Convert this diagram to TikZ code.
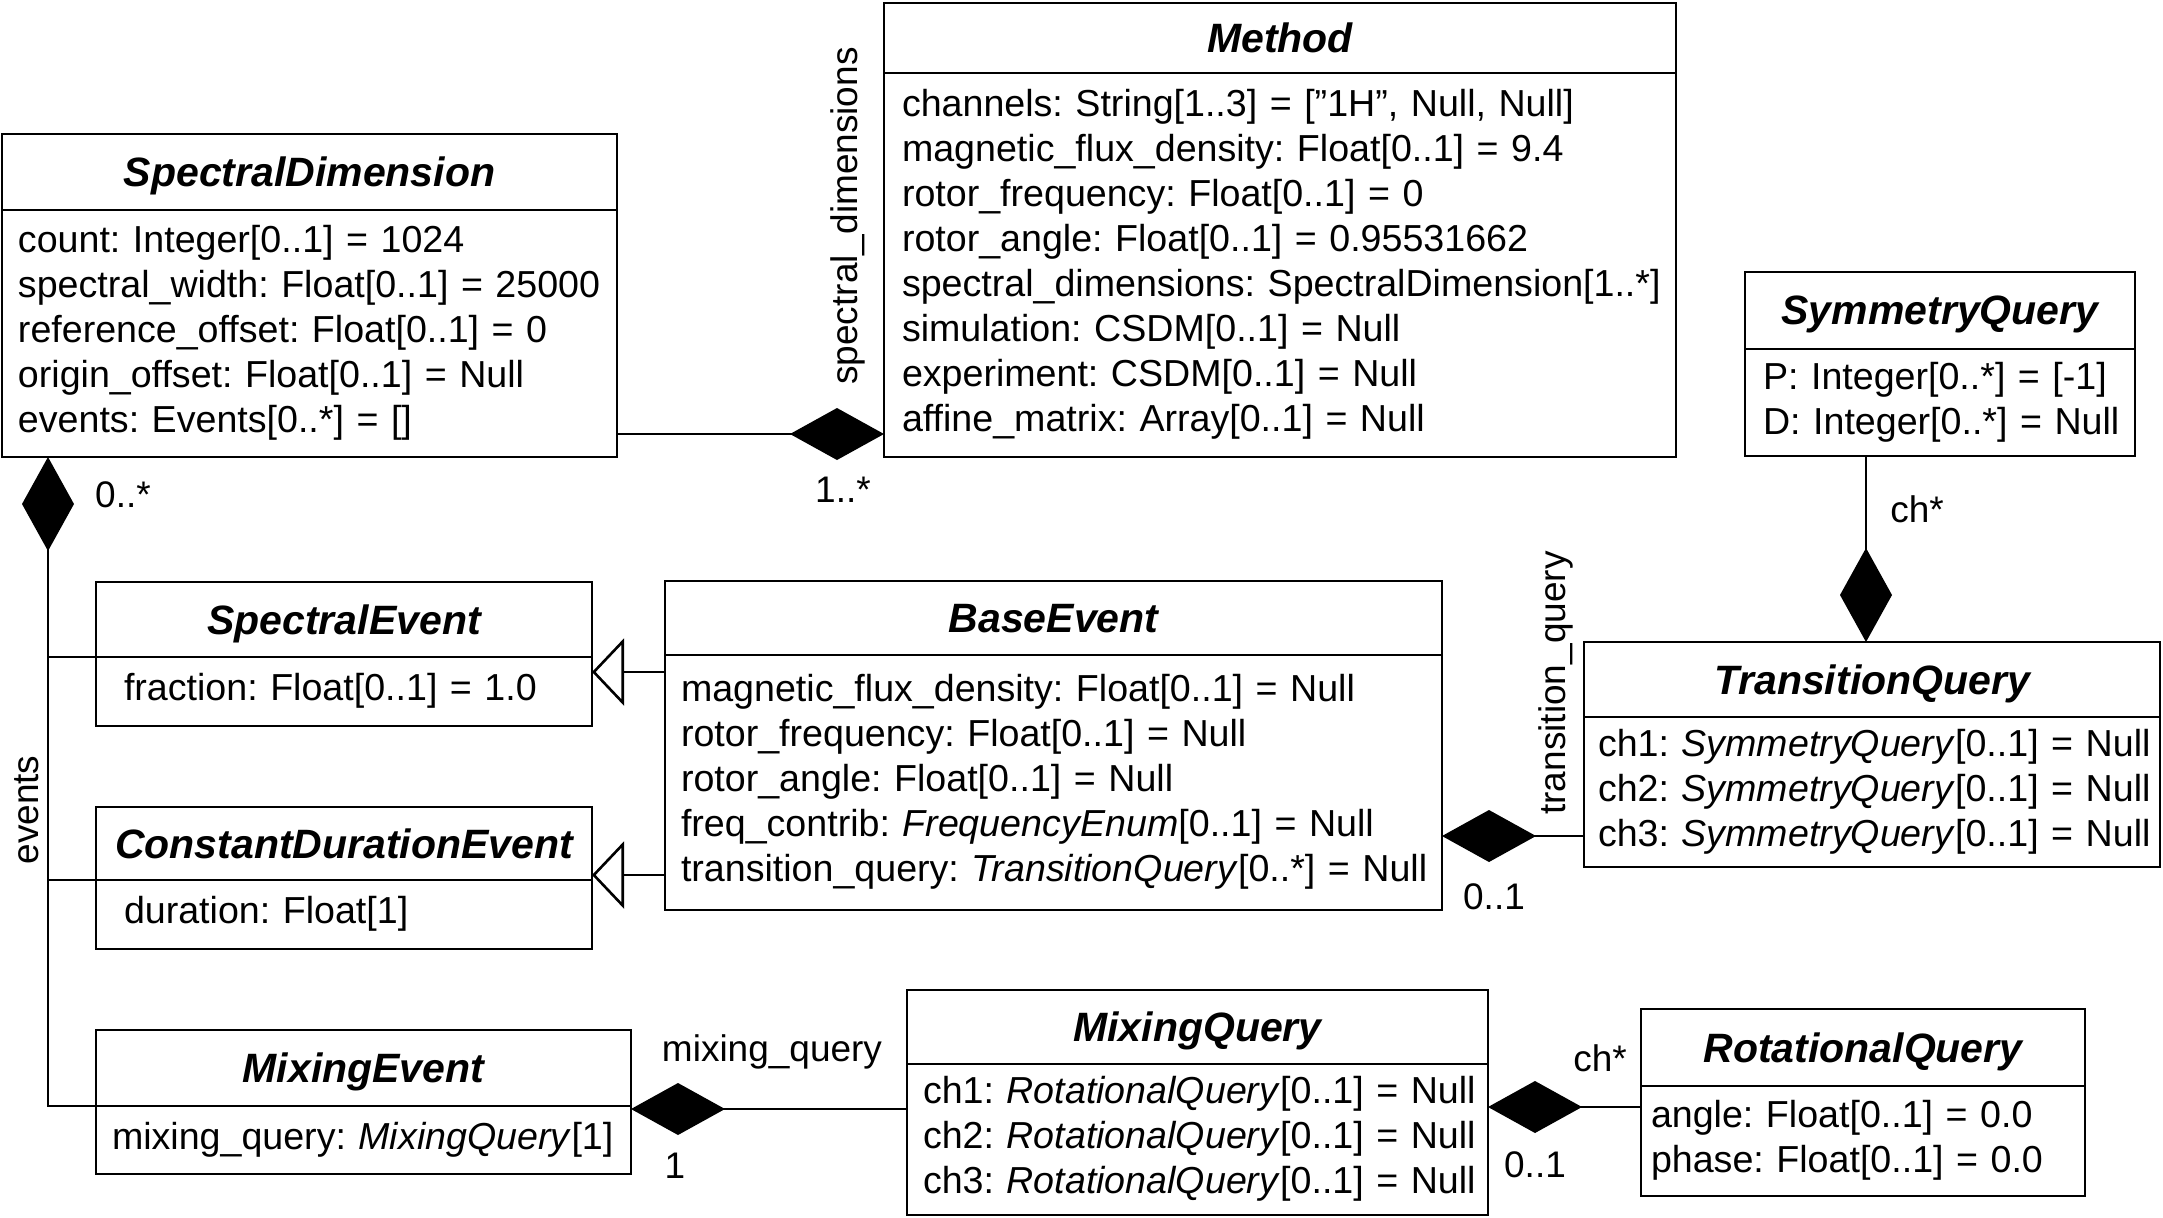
\documentclass[tikz,border=0pt]{standalone}
\usepackage{fontspec}
\setmainfont{Liberation Sans}
\usetikzlibrary{positioning}
\usetikzlibrary{arrows.meta}
\frenchspacing
\newcommand{\attrlines}[1]{\begin{tabular}{@{}l@{}}#1\end{tabular}}

\begin{document}
\begin{tikzpicture}[x=0.5pt,y=-0.5pt]
    \tikzset{
    ctitle/.style={draw, line width=1.3pt, anchor=north west, inner sep=0pt, outer sep=0pt, text depth=0pt,
        font=\fontsize{20.5}{24}\selectfont\bfseries\itshape},
    cattrs/.style={draw, line width=1.3pt, anchor=north west, inner ysep=0pt, outer sep=0pt,
        align=left, font=\fontsize{18.8}{22.5}\selectfont},
    owns/.style={line width=1.3pt, {Diamond[length=47pt,width=26pt]}-},
    inherits/.style={line width=1.3pt, -{Triangle[open,length=16pt,width=33.5pt]}},
    lbl/.style={font=\fontsize{18.5}{22}\selectfont, inner sep=0pt}
    }
    \useasboundingbox (0,0) rectangle (2163,1217);

    % classes
    \node (sdim) [ctitle, minimum width=307.5pt, minimum height=38pt] at (2,134) {SpectralDimension};
    \node (sdimattr) [cattrs, minimum width=307.5pt, minimum height=123.5pt, text width=291.5pt, inner xsep=8pt] at (sdim.south west)
        {\attrlines{count: Integer[0..1] = 1024\\spectral\_width: Float[0..1] = 25000\\reference\_offset: Float[0..1] = 0\\origin\_offset: Float[0..1] = Null\\events: Events[0..*] = []}};

    \node (meth) [ctitle, minimum width=396pt, minimum height=35pt] at (884,3) {Method};
    \node (methattr) [cattrs, minimum width=396pt, minimum height=192pt, text width=378pt, inner xsep=9pt] at (meth.south west)
        {\attrlines{channels: String[1..3] = [”1H”, Null, Null]\\magnetic\_flux\_density: Float[0..1] = 9.4\\rotor\_frequency: Float[0..1] = 0\\rotor\_angle: Float[0..1] = 0.95531662\\spectral\_dimensions: SpectralDimension[1..*]\\simulation: CSDM[0..1] = Null\\experiment: CSDM[0..1] = Null\\affine\_matrix: Array[0..1] = Null}};

    \node (symq) [ctitle, minimum width=195pt, minimum height=38.5pt] at (1745,272) {SymmetryQuery};
    \node (symqattr) [cattrs, minimum width=195pt, minimum height=53.5pt, text width=177pt, inner xsep=9pt] at (symq.south west)
        {\attrlines{P: Integer[0..*] = [-1]\\D: Integer[0..*] = Null}};

    \node (transq) [ctitle, minimum width=288pt, minimum height=37.5pt] at (1584,642) {TransitionQuery};
    \node (transqattr) [cattrs, minimum width=288pt, minimum height=75pt, text width=274pt, inner xsep=7pt] at (transq.south west)
        {\attrlines{ch1: \textit{SymmetryQuery}[0..1] = Null\\ch2: \textit{SymmetryQuery}[0..1] = Null\\ch3: \textit{SymmetryQuery}[0..1] = Null}};

    \node (bev) [ctitle, minimum width=388.5pt, minimum height=37pt] at (665,581) {BaseEvent};
    \node (bevattr) [cattrs, minimum width=388.5pt, minimum height=127.5pt, text width=372.5pt, inner xsep=8pt] at (bev.south west)
        {\attrlines{magnetic\_flux\_density: Float[0..1] = Null\\rotor\_frequency: Float[0..1] = Null\\rotor\_angle: Float[0..1] = Null\\freq\_contrib: \textit{FrequencyEnum}[0..1] = Null\\transition\_query: \textit{TransitionQuery}[0..*] = Null}};

    \node (sev) [ctitle, minimum width=248pt, minimum height=37.5pt] at (96,582) {SpectralEvent};
    \node (sevattr) [cattrs, minimum width=248pt, minimum height=34.5pt, text width=220pt, inner xsep=14pt] at (sev.south west)
        {\attrlines{fraction: Float[0..1] = 1.0}};

    \node (cdev) [ctitle, minimum width=248pt, minimum height=36.5pt] at (96,807) {ConstantDurationEvent};
    \node (cdevattr) [cattrs, minimum width=248pt, minimum height=34.5pt, text width=220pt, inner xsep=14pt] at (cdev.south west)
        {\attrlines{duration: Float[1]}};

    \node (mev) [ctitle, minimum width=267.5pt, minimum height=38pt] at (96,1030) {MixingEvent};
    \node (mevattr) [cattrs, minimum width=267.5pt, minimum height=34pt, text width=251.5pt, inner xsep=8pt] at (mev.south west)
        {\attrlines{mixing\_query: \textit{MixingQuery}[1]}};

    \node (mixq) [ctitle, minimum width=290.5pt, minimum height=37pt] at (907,990) {MixingQuery};
    \node (mixqattr) [cattrs, minimum width=290.5pt, minimum height=75.5pt, text width=274.5pt, inner xsep=8pt] at (mixq.south west)
        {\attrlines{ch1: \textit{RotationalQuery}[0..1] = Null\\ch2: \textit{RotationalQuery}[0..1] = Null\\ch3: \textit{RotationalQuery}[0..1] = Null}};

    \node (rotq) [ctitle, minimum width=222pt, minimum height=38.5pt] at (1641,1009) {RotationalQuery};
    \node (rotqattr) [cattrs, minimum width=222pt, minimum height=55pt, text width=212pt, inner xsep=5pt] at (rotq.south west)
        {\attrlines{angle: Float[0..1] = 0.0\\phase: Float[0..1] = 0.0}};

    % compositions
    \draw[owns] ([yshift=11.5pt]methattr.south west) -- ([yshift=11.5pt]sdimattr.south east);

    \coordinate (evtop) at ([xshift=23pt]sdimattr.south west);
    \draw[owns] (evtop) -- (evtop |- mevattr.north west) -- (mevattr.north west);
    \draw[line width=1.3pt] (evtop |- sevattr.north west) -- (sevattr.north west);
    \draw[line width=1.3pt] (evtop |- cdevattr.north west) -- (cdevattr.north west);

    \coordinate (tqend) at ([yshift=15.5pt]transqattr.south west);
    \draw[owns] (tqend -| bevattr.east) -- (tqend);

    \coordinate (chsym) at ([xshift=60.5pt]symqattr.south west);
    \draw[owns] (chsym |- transq.north) -- (chsym);

    \coordinate (mqend) at ([yshift=-1.5pt]mevattr.north east);
    \draw[owns] (mqend) -- (mqend -| mixqattr.west);

    \coordinate (rqend) at ([yshift=-10.5pt]rotqattr.north west);
    \draw[owns] (rqend -| mixqattr.east) -- (rqend);

    % generalisations
    \coordinate (sevtip) at ([yshift=-7.5pt]sevattr.north east);
    \coordinate (cdevtip) at ([yshift=2.5pt]cdevattr.north east);
    \draw[inherits] (sevtip -| bevattr.west) -- (sevtip);
    \draw[inherits] (cdevtip -| bevattr.west) -- (cdevtip);

    % role names and multiplicities
    \node (lblspecdim) [lbl, rotate=90] at (848,216) {spectral\_dimensions};
    \node (lblspecmult) [lbl] at (843,490) {1..*};
    \node (lblevents) [lbl, rotate=90] at (27,810) {events};
    \node (lblevmult) [lbl] at (123,495) {0..*};
    \node (lbltrans) [lbl, rotate=90] at (1556,683) {transition\_query};
    \node (lbltransmult) [lbl] at (1494,897) {0..1};
    \node (lblsymch) [lbl] at (1917,509) {ch*};
    \node (lblmix) [lbl] at (772,1052) {mixing\_query};
    \node (lblmixmult) [lbl] at (675,1166) {1};
    \node (lblrotch) [lbl] at (1600,1058) {ch*};
    \node (lblrotmult) [lbl] at (1535,1165) {0..1};
\end{tikzpicture}
\end{document}
